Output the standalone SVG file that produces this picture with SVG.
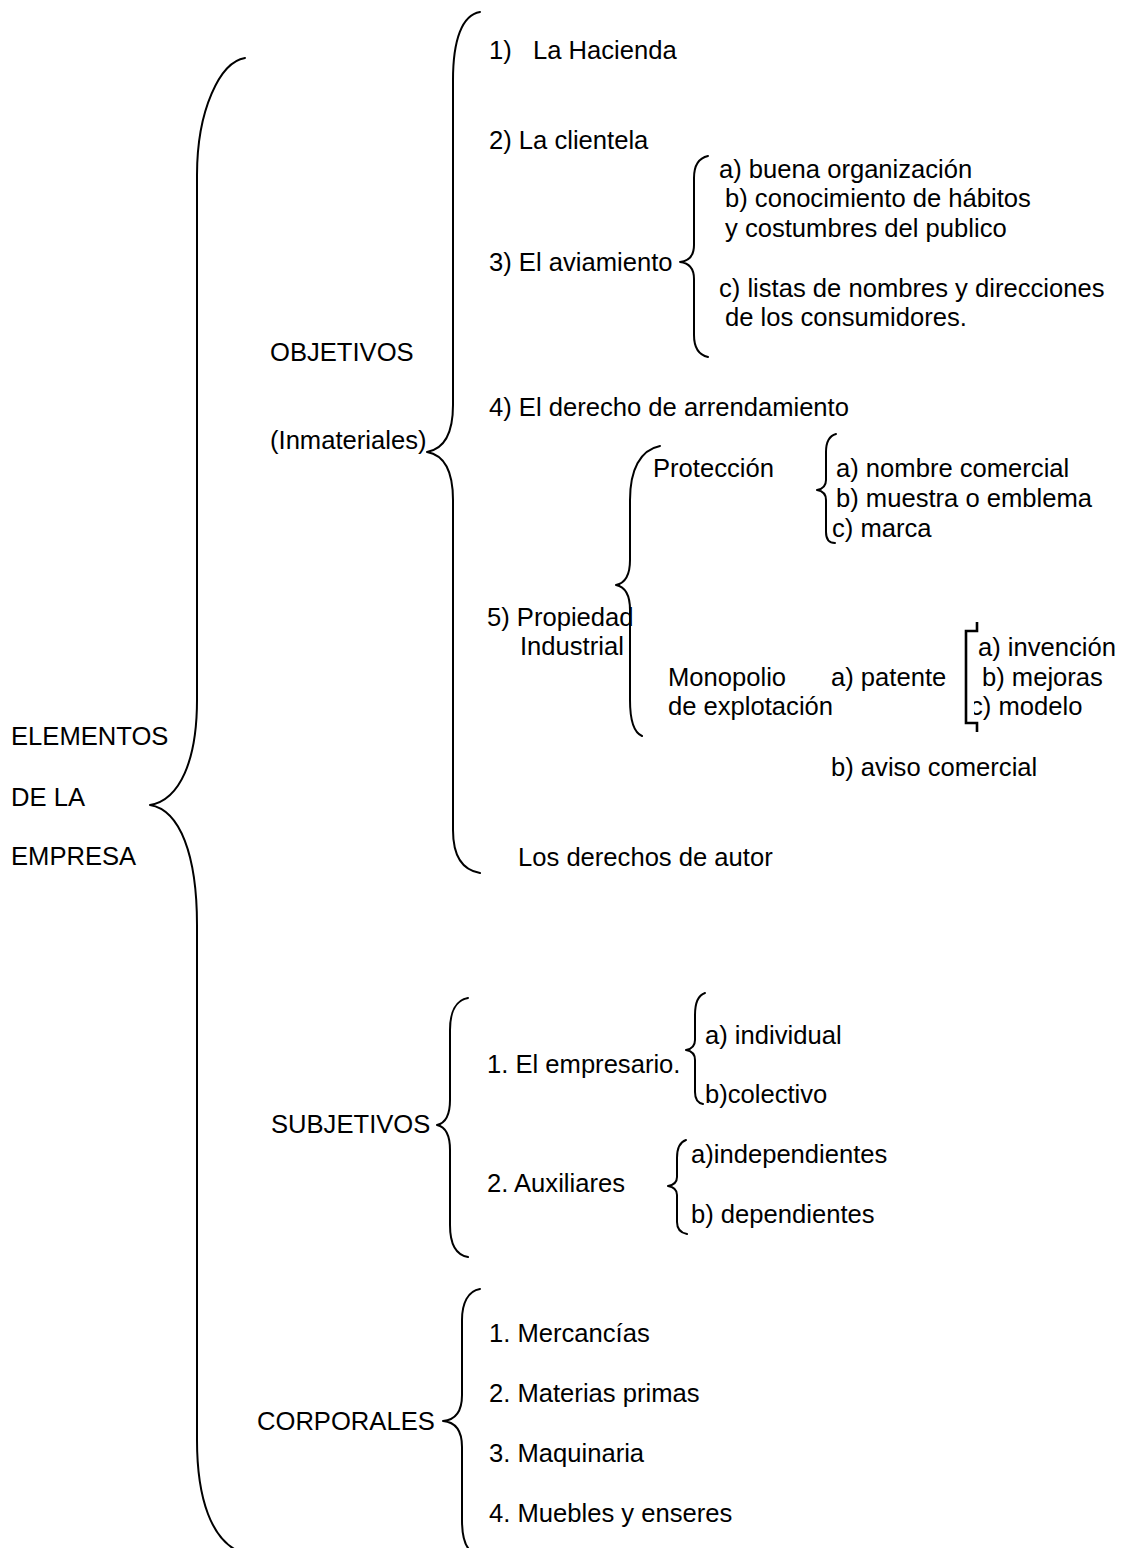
<svg xmlns="http://www.w3.org/2000/svg" width="1125" height="1548" viewBox="0 0 1125 1548">
  <style>
    text { font-family: "Liberation Sans", Arial, sans-serif; font-size: 25.6px; fill: #000; }
    .brace { fill: none; stroke: #000; stroke-width: 2; stroke-linecap: round; stroke-linejoin: round; }
    .bracket { fill: none; stroke: #000; stroke-width: 2.6; }
  </style>
  <rect width="1125" height="1548" fill="#fff"/>

  <!-- root -->
  <g id="node-elementos">
    <text x="11" y="745">ELEMENTOS</text>
    <text x="11" y="806">DE LA</text>
    <text x="11" y="865">EMPRESA</text>
  </g>

  <!-- objective (intangible) elements -->
  <g id="node-objetivos">
    <text x="270" y="361">OBJETIVOS</text>
    <text x="270" y="449">(Inmateriales)</text>
  </g>
  <g id="node-hacienda"><text x="489" y="59">1)<tspan x="533">La Hacienda</tspan></text></g>
  <g id="node-clientela"><text x="489" y="149">2) La clientela</text></g>
  <g id="node-aviamiento"><text x="489" y="271">3) El aviamiento</text></g>
  <g id="node-aviamiento-items">
    <text x="719" y="178">a) buena organización</text>
    <text x="725" y="207">b) conocimiento de hábitos</text>
    <text x="725" y="237">y costumbres del publico</text>
    <text x="719" y="297">c) listas de nombres y direcciones</text>
    <text x="725" y="326">de los consumidores.</text>
  </g>
  <g id="node-arrendamiento"><text x="489" y="416">4) El derecho de arrendamiento</text></g>
  <g id="node-propiedad">
    <text x="487" y="626">5) Propiedad</text>
    <text x="520" y="655">Industrial</text>
  </g>
  <g id="node-proteccion"><text x="653" y="477">Protección</text></g>
  <g id="node-proteccion-items">
    <text x="836" y="477">a) nombre comercial</text>
    <text x="836" y="507">b) muestra o emblema</text>
    <text x="832" y="537">c) marca</text>
  </g>
  <g id="node-monopolio">
    <text x="668" y="686">Monopolio</text>
    <text x="668" y="715">de explotación</text>
  </g>
  <g id="node-patente"><text x="831" y="686">a) patente</text></g>
  <g id="node-patente-items">
    <text x="978" y="656">a) invención</text>
    <text x="982" y="686">b) mejoras</text>
    <text x="970" y="715">c) modelo</text>
  </g>
  <g id="node-aviso"><text x="831" y="776">b) aviso comercial</text></g>
  <g id="node-autor"><text x="518" y="866">Los derechos de autor</text></g>

  <!-- subjective elements -->
  <g id="node-subjetivos"><text x="271" y="1133">SUBJETIVOS</text></g>
  <g id="node-empresario"><text x="487" y="1073">1. El empresario.</text></g>
  <g id="node-empresario-items">
    <text x="705" y="1044">a) individual</text>
    <text x="705" y="1103">b)colectivo</text>
  </g>
  <g id="node-auxiliares"><text x="487" y="1192">2. Auxiliares</text></g>
  <g id="node-auxiliares-items">
    <text x="691" y="1163">a)independientes</text>
    <text x="691" y="1223">b) dependientes</text>
  </g>

  <!-- tangible elements -->
  <g id="node-corporales"><text x="257" y="1430">CORPORALES</text></g>
  <g id="node-corporales-items">
    <text x="489" y="1342">1. Mercancías</text>
    <text x="489" y="1402">2. Materias primas</text>
    <text x="489" y="1462">3. Maquinaria</text>
    <text x="489" y="1522">4. Muebles y enseres</text>
  </g>

  <!-- braces and brackets (the patent bracket has an opaque white body) -->
  <g id="connectors">
    <path id="brace-root" class="brace" d="M245,58 C220,62 197,110 197,175 L197,700 C197,760 180,800 150,805 C180,810 197,855 197,925 L197,1440 C197,1500 212,1540 240,1552"/>
    <path id="brace-objetivos" class="brace" d="M480,12 C462,15 453,40 453,80 L453,405 C453,435 444,449 427,452 C444,455 453,470 453,500 L453,830 C453,855 462,870 480,873"/>
    <path id="brace-aviamiento" class="brace" d="M708,156 C699,158 694,165 694,178 L694,245 C694,256 689,261 680,262 C689,263 694,268 694,279 L694,335 C694,348 699,355 708,357"/>
    <path id="brace-propiedad" class="brace" d="M660,446 C640,450 630,470 630,500 L630,560 C630,575 626,583 616,585 C626,587 630,595 630,610 L630,700 C630,722 635,733 642,736"/>
    <path id="brace-proteccion" class="brace" d="M836,434 C829,436 826,442 826,452 L826,480 C826,486 823,489 817,490 C823,491 826,494 826,500 L826,532 C826,540 829,543 835,543"/>
    <rect x="950" y="633" width="24" height="89" fill="#fff"/>
    <path id="bracket-patente" class="bracket" d="M977,622 L977,631 L966,631 L966,723 L977,723 L977,732"/>
    <path id="brace-empresario" class="brace" d="M705,993 C699,995 695,1002 695,1015 L695,1040 C695,1046 692,1049 686,1050 C692,1051 695,1054 695,1060 L695,1092 C695,1100 698,1103 703,1104"/>
    <path id="brace-auxiliares" class="brace" d="M686,1140 C680,1142 677,1148 677,1158 L677,1177 C677,1182 674,1185 668,1186 C674,1187 677,1190 677,1195 L677,1222 C677,1229 681,1233 687,1234"/>
    <path id="brace-subjetivos" class="brace" d="M468,998 C456,1000 450,1012 450,1030 L450,1100 C450,1115 446,1123 437,1125 C446,1127 450,1135 450,1150 L450,1225 C450,1245 456,1255 468,1257"/>
    <path id="brace-corporales" class="brace" d="M480,1289 C468,1291 462,1303 462,1320 L462,1395 C462,1412 455,1420 443,1421 C455,1422 462,1430 462,1447 L462,1520 C462,1540 466,1548 472,1552"/>
  </g>
</svg>
